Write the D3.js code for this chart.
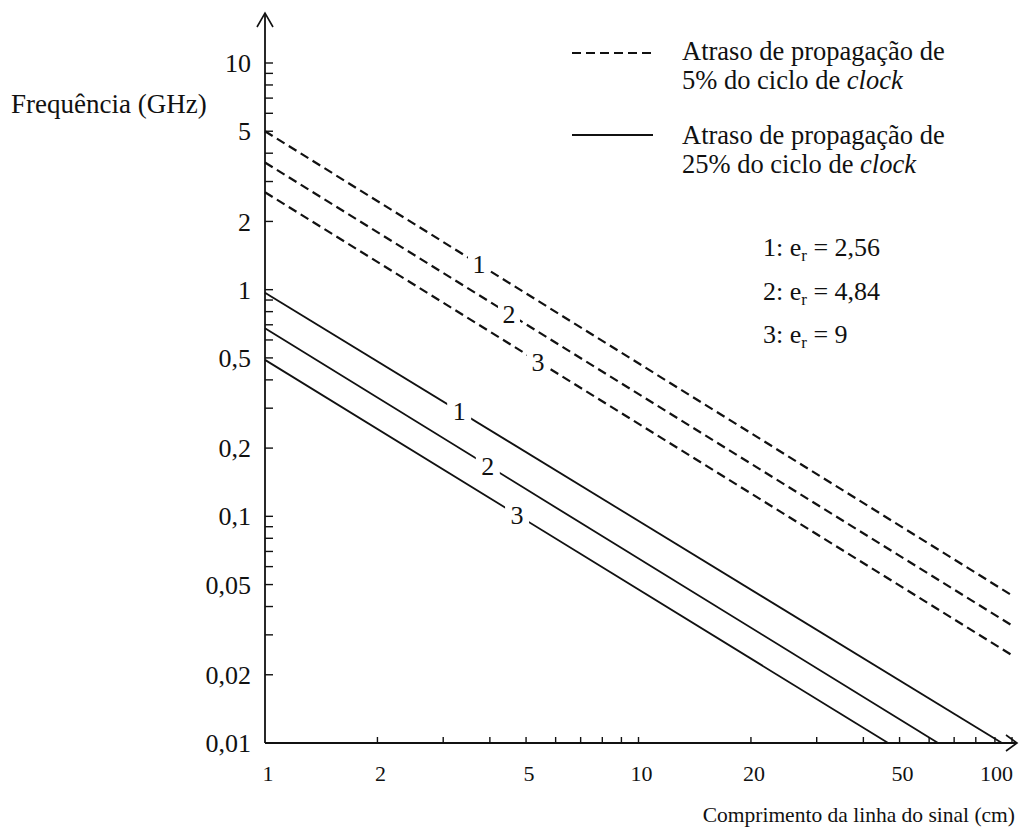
<!DOCTYPE html>
<html>
<head>
<meta charset="utf-8">
<script src="https://cdn.jsdelivr.net/npm/d3@7"></script>
<style>
    body { margin: 0; background: #fff; }
    svg text { font-family: "Liberation Serif", "Times New Roman", serif; fill: #111; }
</style>
</head>
<body>
<div id="chart-area"></div>
<script>

// Curve numbers and their dielectric constants
var curveIds = ["1", "2", "3"];
var permittivity = ["2,56", "4,84", "9"];

// Dashed curves (5% of clock cycle): from L = 1 cm to L = 100 cm
var dashedStartFreq = [5.0, 3.64, 2.69];
var dashedEndLength = [100, 100, 100];
var dashedEndFreq = [0.0448, 0.033, 0.0244];
var dashedLabelLength = [3.74, 4.5, 5.38];

// Solid curves (25% of clock cycle): from L = 1 cm down to 0.01 GHz
var solidStartFreq = [0.97, 0.675, 0.49];
var solidEndLength = [94, 63.4, 46.6];
var solidEndFreq = [0.01, 0.01, 0.01];
var solidLabelLength = [3.31, 3.95, 4.73];

// Tick labels
var xTickValues = [1, 2, 5, 10, 20, 50, 100];
var xTickLabels = ["1", "2", "5", "10", "20", "50", "100"];
var xMinorTicks = [3, 4, 6, 7, 8, 9, 30, 40, 60, 70, 80, 90];
var yTickValues = [10, 5, 2, 1, 0.5, 0.2, 0.1, 0.05, 0.02, 0.01];
var yTickLabels = ["10", "5", "2", "1", "0,5", "0,2", "0,1", "0,05", "0,02", "0,01"];
var yMinorTicks = [9, 8, 7, 6, 4, 3, 0.9, 0.8, 0.7, 0.6, 0.4, 0.3, 0.09, 0.08, 0.07, 0.06, 0.04, 0.03];


var width = 1020, height = 834;

var svg = d3.select("#chart-area").append("svg")
    .attr("width", width)
    .attr("height", height)
    .attr("font-family", "Liberation Serif, Times New Roman, serif");

// Log scales for both axes
var x = d3.scaleLog()
    .domain([1, 100])
    .range([265, 1012]);

var y = d3.scaleLog()
    .domain([0.01, 10])
    .range([743, 63]);

var x0 = x(1), y0 = y(0.01);

// Axes lines with arrows
svg.append("line")
    .attr("x1", x0).attr("y1", y0)
    .attr("x2", x0).attr("y2", 13)
    .attr("stroke", "#111").attr("stroke-width", 1.8);
svg.append("path")
    .attr("d", "M" + (x0 - 8) + ",27 L" + x0 + ",13 L" + (x0 + 8) + ",27")
    .attr("fill", "none").attr("stroke", "#111").attr("stroke-width", 1.6);

svg.append("line")
    .attr("x1", x0).attr("y1", y0)
    .attr("x2", 1017).attr("y2", y0)
    .attr("stroke", "#111").attr("stroke-width", 1.8);
svg.append("path")
    .attr("d", "M1006," + (y0 - 8) + " L1017," + y0 + " L1006," + (y0 + 8))
    .attr("fill", "none").attr("stroke", "#111").attr("stroke-width", 1.6);

// y ticks (pointing inward)
svg.selectAll("line.ytick")
    .data(yTickValues.concat(yMinorTicks))
    .enter().append("line")
    .attr("class", "ytick")
    .attr("x1", x0).attr("x2", x0 + 8)
    .attr("y1", function(d) { return y(d); })
    .attr("y2", function(d) { return y(d); })
    .attr("stroke", "#111").attr("stroke-width", 1.4);

svg.selectAll("text.ylabel")
    .data(yTickValues)
    .enter().append("text")
    .attr("class", "ylabel")
    .attr("x", 251)
    .attr("y", function(d) { return y(d); })
    .attr("dy", "0.35em")
    .attr("text-anchor", "end")
    .attr("font-size", 26)
    .text(function(d, i) { return yTickLabels[i]; });

// x ticks (pointing up)
svg.selectAll("line.xtick")
    .data(xTickValues.slice(1).concat(xMinorTicks))
    .enter().append("line")
    .attr("class", "xtick")
    .attr("x1", function(d) { return x(d); })
    .attr("x2", function(d) { return x(d); })
    .attr("y1", y0).attr("y2", y0 - 6)
    .attr("stroke", "#111").attr("stroke-width", 1.4);

svg.selectAll("text.xlabel")
    .data(xTickValues)
    .enter().append("text")
    .attr("class", "xlabel")
    .attr("x", function(d, i) { return i === xTickValues.length - 1 ? x(d) + 1 : x(d) + 3; })
    .attr("y", 781)
    .attr("text-anchor", function(d, i) { return i === xTickValues.length - 1 ? "end" : "middle"; })
    .attr("font-size", 22)
    .text(function(d, i) { return xTickLabels[i]; });

// Axis titles
svg.append("text")
    .attr("x", 11).attr("y", 113)
    .attr("font-size", 27)
    .text("Frequência (GHz)");

svg.append("text")
    .attr("x", 1015).attr("y", 822)
    .attr("text-anchor", "end")
    .attr("font-size", 21.5)
    .text("Comprimento da linha do sinal (cm)");

// Build series
function makeSeries(startF, endL, endF, labelL, dashed) {
    return curveIds.map(function(id, i) {
        return {
            id: id,
            dashed: dashed,
            labelL: labelL[i],
            points: [{L: 1, f: startF[i]}, {L: endL[i], f: endF[i]}]
        };
    });
}

var series = makeSeries(dashedStartFreq, dashedEndLength, dashedEndFreq, dashedLabelLength, true)
    .concat(makeSeries(solidStartFreq, solidEndLength, solidEndFreq, solidLabelLength, false));

var line = d3.line()
    .x(function(d) { return x(d.L); })
    .y(function(d) { return y(d.f); });

svg.selectAll("path.curve")
    .data(series)
    .enter().append("path")
    .attr("class", "curve")
    .attr("d", function(d) { return line(d.points); })
    .attr("fill", "none")
    .attr("stroke", "#111")
    .attr("stroke-width", function(d) { return d.dashed ? 2.2 : 1.8; })
    .attr("stroke-dasharray", function(d) { return d.dashed ? "9,5" : null; });

// frequency on a curve at a given length (straight line in log-log)
function freqAt(d, L) {
    var p0 = d.points[0], p1 = d.points[1];
    var t = (Math.log(L) - Math.log(p0.L)) / (Math.log(p1.L) - Math.log(p0.L));
    return Math.exp(Math.log(p0.f) + t * (Math.log(p1.f) - Math.log(p0.f)));
}

var labels = svg.selectAll("g.curve-label")
    .data(series)
    .enter().append("g")
    .attr("class", "curve-label")
    .attr("transform", function(d) {
        return "translate(" + x(d.labelL) + "," + y(freqAt(d, d.labelL)) + ")";
    });

labels.append("rect")
    .attr("x", function(d) { return d.dashed ? -11 : -12; })
    .attr("y", -14)
    .attr("width", function(d) { return d.dashed ? 22 : 24; })
    .attr("height", 28)
    .attr("fill", "#fff");

labels.append("text")
    .attr("text-anchor", "middle")
    .attr("dy", "0.35em")
    .attr("font-size", 26)
    .text(function(d) { return d.id; });

// Legend
var legendItems = [
    {dashed: true, y: 53, line1: 60, pct: "5%"},
    {dashed: false, y: 135, line1: 144, pct: "25%"}
];

legendItems.forEach(function(item) {
    svg.append("line")
        .attr("x1", 572).attr("x2", 653)
        .attr("y1", item.y).attr("y2", item.y)
        .attr("stroke", "#111")
        .attr("stroke-width", item.dashed ? 2.2 : 1.8)
        .attr("stroke-dasharray", item.dashed ? "9,5" : null);

    svg.append("text")
        .attr("x", 682).attr("y", item.line1)
        .attr("font-size", 26.5)
        .text("Atraso de propagação de");

    var t = svg.append("text")
        .attr("x", 682).attr("y", item.line1 + 29)
        .attr("font-size", 26.5);
    t.append("tspan").text(item.pct + " do ciclo de ");
    t.append("tspan").attr("font-style", "italic").text("clock");
});

// Permittivity key
svg.selectAll("text.er")
    .data(curveIds)
    .enter().append("text")
    .attr("class", "er")
    .attr("x", 763)
    .attr("y", function(d, i) { return 256 + i * 43.5; })
    .attr("font-size", 26)
    .each(function(d, i) {
        var t = d3.select(this);
        t.append("tspan").text(d + ": e");
        t.append("tspan").attr("font-size", 17).attr("dy", 5).text("r");
        t.append("tspan").attr("dy", -5).text(" = " + permittivity[i]);
    });

</script>
</body>
</html>
